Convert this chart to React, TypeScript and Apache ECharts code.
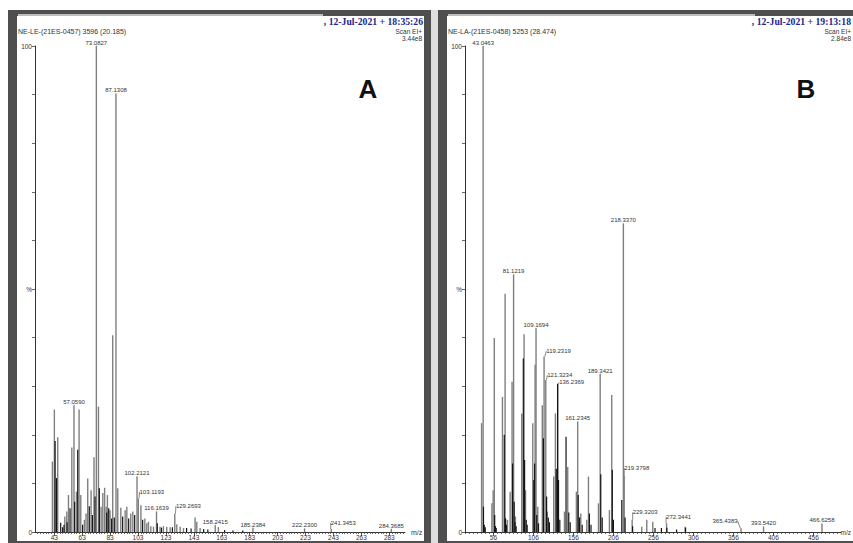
import React, { useEffect, useRef } from "react";
import * as echarts from "echarts";

// ---------- Panel A data ----------
const A_TICKS = [43, 63, 83, 103, 123, 143, 163, 183, 203, 223, 243, 263, 283];
const A_GRAY_MZ = [41.6, 43.0, 45.4, 50.5, 51.9, 53.1, 55.5, 58.8, 60.7, 61.9, 64.5, 65.7, 66.9, 69.3, 71.4, 74.6, 76.5, 77.7, 79.0, 80.1, 81.0, 82.9, 84.8, 88.4, 90.6, 93.7, 94.9, 97.7, 99.2, 105.0, 107.8, 109.2, 110.4, 112.1, 114.0, 118.7, 121.1, 123.5, 125.9, 130.7, 133.1, 135.5, 143.8, 145.0, 147.4, 160.5];
const A_GRAY_INT = [14.5, 25.2, 19.5, 3.2, 4.2, 7.6, 17.4, 8.3, 25.2, 7.6, 2.5, 3.8, 11.0, 8.6, 15.4, 25.8, 5.2, 8.0, 9.1, 5.2, 7.6, 4.5, 40.5, 9.0, 5.0, 4.5, 5.2, 3.8, 4.2, 5.5, 2.8, 1.8, 2.1, 1.2, 1.1, 1.1, 1.2, 1.1, 1.0, 1.6, 1.1, 0.8, 3.0, 2.1, 0.8, 1.0];
const A_BLACK_MZ = [43.6, 44.6, 47.6, 49.0, 50.0, 52.2, 54.3, 57.6, 59.8, 63.3, 68.1, 70.3, 72.2, 75.3, 80.6, 82.0, 84.1, 86.0, 92.0, 96.3, 100.6, 106.3, 116.8, 119.8, 127.6, 137.8, 141.0, 150.0, 153.0, 165.0, 171.0, 178.0];
const A_BLACK_INT = [18.7, 11.1, 1.9, 1.0, 1.5, 2.0, 4.9, 6.2, 16.9, 1.5, 5.3, 3.5, 7.3, 9.0, 4.0, 4.9, 2.8, 3.0, 3.2, 2.8, 3.5, 2.5, 1.8, 0.9, 1.0, 0.8, 0.7, 0.6, 0.5, 0.4, 0.3, 0.3];
const A_PEAK_MZ = [57.059, 73.0827, 87.1308, 102.2121, 103.1193, 116.1639, 129.2693, 158.2415, 185.2384, 222.23, 241.3453, 284.3685];
const A_PEAK_INT = [26.1, 100, 90.2, 11.4, 6.9, 4.2, 3.8, 1.4, 0.8, 0.7, 0.6, 0.6];

// ---------- Panel B data ----------
const B_TICKS = [56, 106, 156, 206, 256, 306, 356, 406, 456];
const B_GRAY_MZ = [41.1, 54.0, 55.6, 57.0, 67.2, 70.5, 73.4, 76.8, 79.2, 83.4, 91.3, 94.2, 96.0, 105.1, 108.0, 111.3, 117.0, 123.3, 131.3, 133.4, 144.7, 148.8, 159.6, 165.1, 172.6, 174.7, 187.2, 200.9, 203.8, 241.3, 247.6, 255.1, 295.5];
const B_GRAY_INT = [22.4, 5.9, 8.6, 39.9, 27.8, 49.0, 2.5, 8.3, 30.9, 3.2, 24.4, 40.7, 8.6, 22.4, 34.4, 5.2, 26.1, 4.2, 11.4, 24.4, 4.2, 13.4, 8.3, 3.8, 2.5, 11.4, 5.9, 4.5, 28.2, 1.1, 2.5, 2.1, 1.1];
const B_BLACK_MZ = [43.6, 44.6, 45.8, 57.6, 58.6, 59.5, 69.6, 71.2, 72.2, 80.0, 82.0, 83.0, 84.4, 93.4, 95.0, 97.0, 98.2, 106.5, 107.5, 110.2, 112.4, 118.5, 122.5, 124.6, 126.0, 134.6, 137.4, 139.0, 146.8, 150.2, 152.0, 162.0, 163.6, 167.0, 176.0, 178.0, 190.2, 192.0, 204.6, 206.0, 216.5, 220.6, 230.0, 258.0, 266.0, 272.8, 285.0, 296.2];
const B_BLACK_INT = [5.2, 1.5, 1.0, 3.5, 1.2, 0.8, 20.0, 2.8, 1.5, 14.1, 6.2, 2.0, 1.2, 35.7, 14.8, 2.5, 1.5, 10.7, 14.1, 3.5, 1.8, 19.3, 7.3, 3.0, 2.0, 13.0, 10.7, 2.5, 19.6, 4.0, 2.0, 7.6, 3.0, 1.5, 3.8, 1.5, 11.9, 3.0, 12.8, 2.5, 6.6, 3.0, 1.2, 0.8, 0.8, 0.9, 0.5, 0.9];
const B_PEAK_MZ = [43.0463, 81.1219, 109.1694, 119.2319, 121.3234, 136.2369, 161.2345, 189.3421, 218.337, 219.3798, 229.3203, 272.3441, 365.4383, 393.542, 466.6258];
const B_PEAK_INT = [100, 53.0, 41.9, 36.1, 31.3, 30.5, 22.7, 32.5, 63.5, 11.7, 2.5, 1.8, 0.75, 1.1, 1.7];

// ---------- styling (not data) ----------
const A_SHIFT: Record<string, [number, number]> = {
  "103.1193": [13.5, -3],
  "129.2693": [13.6, -4],
  "241.3453": [12, -3],
};
const B_SHIFT: Record<string, [number, number]> = {
  "119.2319": [14.5, -2],
  "121.3234": [14, -1],
  "136.2369": [14, 2],
  "219.3798": [12.5, -3.5],
  "229.3203": [13, -4],
  "272.3441": [12, -3],
  "365.4383": [-16, -4],
};
const B_DARK_PEAKS = ["136.2369"];

const SANS = "'Liberation Sans', Arial, sans-serif";
const SERIF = "'Liberation Serif', 'Times New Roman', serif";
const GRAY = "#7f7f7f";
const BLACK = "#141414";
const FRAME = "#4f4f4f";

const A_MIN = 29.2;
const A_PX = 1.396;
const A_W = 370;
const B_MIN = 20.5;
const B_PX = 0.8;
const B_W = 376;

function range(a: number, b: number, step: number) {
  const out: number[] = [];
  for (let v = a; v <= b + 1e-9; v += step) out.push(v);
  return out;
}

function pairs(mz: number[], it: number[]) {
  return mz.map((m, i) => [m, it[i]]);
}

function buildPanel(
  idx: number,
  min: number,
  max: number,
  ticks: number[],
  minor: number[],
  grayMz: number[],
  grayInt: number[],
  blackMz: number[],
  blackInt: number[],
  peakMz: number[],
  peakInt: number[],
  shift: Record<string, [number, number]>,
  dark: string[]
) {
  const axisColor = "#333";
  const xAxes = [
    {
      gridIndex: idx,
      type: "value",
      position: "bottom",
      min,
      max,
      axisLine: { show: true, lineStyle: { color: axisColor, width: 1 } },
      axisTick: { show: true, customValues: minor, length: 2, lineStyle: { color: "#444", width: 0.8 } },
      axisLabel: { show: false },
      splitLine: { show: false },
    },
    {
      gridIndex: idx,
      type: "value",
      position: "bottom",
      min,
      max,
      axisLine: { show: false },
      axisTick: { show: true, customValues: ticks, length: 4, lineStyle: { color: "#333", width: 0.8 } },
      axisLabel: { show: true, customValues: ticks, fontSize: 6.5, margin: 2, color: "#333", fontFamily: SANS },
      splitLine: { show: false },
    },
  ];
  const yAxis = {
    gridIndex: idx,
    type: "value",
    min: 0,
    max: 100,
    interval: 10,
    axisLine: { show: true, lineStyle: { color: axisColor, width: 1 } },
    axisTick: { show: true, length: 3, lineStyle: { color: "#444", width: 0.8 } },
    axisLabel: {
      fontSize: 6.5,
      margin: 3,
      color: "#333",
      fontFamily: SANS,
      formatter: (v: number) => (v === 100 ? "100" : v === 50 ? "%" : v === 0 ? "0" : ""),
    },
    splitLine: { show: false },
  };
  const xi = idx * 2;
  const labels = peakMz.map((m) => m.toFixed(4));
  const series = [
    {
      type: "bar",
      xAxisIndex: xi,
      yAxisIndex: idx,
      data: pairs(grayMz, grayInt),
      barWidth: 1.4,
      barGap: "-100%",
      itemStyle: { color: GRAY },
      silent: true,
    },
    {
      type: "bar",
      xAxisIndex: xi,
      yAxisIndex: idx,
      data: peakMz.map((m, i) => ({
        value: [m, peakInt[i]],
        itemStyle: { color: dark.includes(labels[i]) ? BLACK : GRAY },
      })),
      barWidth: 1.4,
      barGap: "-100%",
      silent: true,
      label: {
        show: true,
        position: "top",
        distance: 0.5,
        fontSize: 6,
        color: "#333",
        fontFamily: SANS,
        formatter: (p: any) => Number(p.value[0]).toFixed(4),
      },
      labelLine: { show: true, lineStyle: { color: "#555", width: 0.7 } },
      labelLayout: (p: any) => {
        const s = shift[labels[p.dataIndex]];
        return s ? { dx: s[0], dy: s[1] } : {};
      },
    },
    {
      type: "bar",
      xAxisIndex: xi,
      yAxisIndex: idx,
      data: pairs(blackMz, blackInt),
      barWidth: 1.2,
      barGap: "-100%",
      itemStyle: { color: BLACK },
      silent: true,
    },
  ];
  return { xAxes, yAxis, series };
}

export default function App() {
  const ref = useRef<HTMLDivElement>(null);
  useEffect(() => {
    if (!ref.current) return;
    const chart = echarts.init(ref.current, undefined, { renderer: "svg" });
    const pa = buildPanel(0, A_MIN, A_MIN + A_W / A_PX, A_TICKS, range(31, 293, 2),
      A_GRAY_MZ, A_GRAY_INT, A_BLACK_MZ, A_BLACK_INT, A_PEAK_MZ, A_PEAK_INT, A_SHIFT, []);
    const pb = buildPanel(1, B_MIN, B_MIN + B_W / B_PX, B_TICKS, range(21, 486, 5),
      B_GRAY_MZ, B_GRAY_INT, B_BLACK_MZ, B_BLACK_INT, B_PEAK_MZ, B_PEAK_INT, B_SHIFT, B_DARK_PEAKS);

    const rect = (x: number, y: number, w: number, h: number, fill: string) => ({
      type: "rect",
      shape: { x, y, width: w, height: h },
      style: { fill },
      silent: true,
    });
    const text = (x: number, y: number, t: string, font: string, fill: string, align = "left") => ({
      type: "text",
      x,
      y,
      silent: true,
      style: { text: t, font, fill, align, verticalAlign: "middle" },
    });

    chart.setOption({
      animation: false,
      backgroundColor: "#ffffff",
      grid: [
        { left: 35, top: 46, width: A_W, height: 486, containLabel: false },
        { left: 465, top: 46, width: B_W, height: 486, containLabel: false },
      ],
      xAxis: [...pa.xAxes, ...pb.xAxes],
      yAxis: [pa.yAxis, pb.yAxis],
      series: [...pa.series, ...pb.series],
      graphic: [
        // frames
        rect(8, 10, 9, 533, FRAME),
        rect(8, 10, 423, 6, FRAME),
        rect(424, 10, 7, 533, FRAME),
        rect(8, 541, 423, 2, FRAME),
        rect(18, 14, 305, 2, "#bdbdbd"),
        rect(431, 10, 7, 533, "#dedede"),
        rect(438, 10, 9, 533, FRAME),
        rect(438, 10, 415, 6, FRAME),
        rect(438, 541, 415, 2, FRAME),
        rect(448, 14, 307, 2, "#bdbdbd"),
        // headers A
        text(18, 31.5, "NE-LE-(21ES-0457) 3596 (20.185)", `7px ${SANS}`, "#333"),
        text(423, 21, ", 12-Jul-2021 + 18:35:26", `bold 9.7px ${SERIF}`, "#23238a", "right"),
        text(422, 31.5, "Scan EI+", `6.5px ${SANS}`, "#333", "right"),
        text(422, 38, "3.44e8", `6.5px ${SANS}`, "#333", "right"),
        text(368, 89, "A", `bold 26px ${SANS}`, "#111", "center"),
        text(411, 532, "m/z", `7px ${SANS}`, "#333"),
        // headers B
        text(448, 31.5, "NE-LA-(21ES-0458) 5253 (28.474)", `7px ${SANS}`, "#333"),
        text(851, 21, ", 12-Jul-2021 + 19:13:18", `bold 9.7px ${SERIF}`, "#23238a", "right"),
        text(851, 31.5, "Scan EI+", `6.5px ${SANS}`, "#333", "right"),
        text(851, 38, "2.84e8", `6.5px ${SANS}`, "#333", "right"),
        text(806, 89, "B", `bold 26px ${SANS}`, "#111", "center"),
        text(851, 532, "m/z", `6.5px ${SANS}`, "#333", "right"),
      ],
    });
    return () => chart.dispose();
  }, []);
  return (
    <div
      ref={ref}
      style={{ position: "absolute", left: 0, top: 0, width: 853, height: 543 }}
    />
  );
}
